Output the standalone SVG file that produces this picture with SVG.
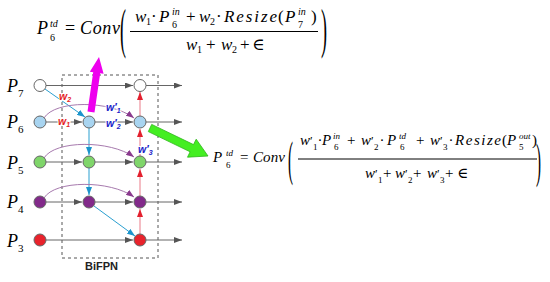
<svg xmlns="http://www.w3.org/2000/svg" width="550" height="282" viewBox="0 0 550 282">
<style>
.m{font-family:"Liberation Serif","Times New Roman","DejaVu Serif",serif;font-style:italic;fill:#000}
.r{font-family:"Liberation Serif","Times New Roman","DejaVu Serif",serif;font-style:normal;fill:#000}
.u{font-style:normal}
.h{stroke:#666;stroke-width:1;fill:none;marker-end:url(#ag)}
.b{stroke:#2a9fd0;stroke-width:1;fill:none;marker-end:url(#ab)}
.rd{stroke:#ea7a88;stroke-width:1;fill:none;marker-end:url(#ar)}
.p{stroke:#a77aae;stroke-width:1;fill:none;marker-end:url(#ap)}
.n{stroke:#666;stroke-width:1}
.lb{font-family:"Liberation Sans",Arial,sans-serif;font-weight:bold;font-style:italic;font-size:10.5px;paint-order:stroke;stroke:#fff;stroke-width:2px}
</style>
<defs>
<marker id="ag" markerUnits="userSpaceOnUse" markerWidth="8" markerHeight="6" refX="8" refY="3" orient="auto"><path d="M0,0 L8,3 L0,6 z" fill="#555"/></marker>
<marker id="ab" markerUnits="userSpaceOnUse" markerWidth="8" markerHeight="6" refX="8" refY="3" orient="auto"><path d="M0,0 L8,3 L0,6 z" fill="#1b94cc"/></marker>
<marker id="ar" markerUnits="userSpaceOnUse" markerWidth="8" markerHeight="6" refX="8" refY="3" orient="auto"><path d="M0,0 L8,3 L0,6 z" fill="#e3202e"/></marker>
<marker id="ap" markerUnits="userSpaceOnUse" markerWidth="8" markerHeight="6" refX="8" refY="3" orient="auto"><path d="M0,0 L8,3 L0,6 z" fill="#8a3a8e"/></marker>
</defs>
<rect width="550" height="282" fill="#fff"/>

<!-- top formula -->
<g id="formula1">
<text class="m" font-size="18" y="34"><tspan x="37">P</tspan><tspan x="50" y="27" font-size="10">td</tspan><tspan class="u" x="50" y="41" font-size="10">6</tspan><tspan class="u" x="65" y="34">=</tspan><tspan x="80" y="34" textLength="40" lengthAdjust="spacing">Conv</tspan></text>
<text class="r" font-size="18" transform="translate(120,47) scale(1,3.03)">(</text>
<text class="m" font-size="17" y="22"><tspan x="135">w</tspan><tspan class="u" x="146" y="25" font-size="10">1</tspan><tspan class="u" x="151" y="22">·</tspan><tspan x="159" y="22">P</tspan><tspan x="172" y="15" font-size="10">in</tspan><tspan class="u" x="172" y="28" font-size="10">6</tspan><tspan class="u" x="186" y="22">+</tspan><tspan x="199" y="22">w</tspan><tspan class="u" x="210" y="25" font-size="10">2</tspan><tspan class="u" x="216" y="22">·</tspan><tspan x="224" y="22" textLength="53" lengthAdjust="spacing">Resize</tspan><tspan class="u" x="278" y="22">(</tspan><tspan x="285" y="22">P</tspan><tspan x="298" y="15" font-size="10">in</tspan><tspan class="u" x="298" y="28" font-size="10">7</tspan><tspan class="u" x="311" y="22">)</tspan></text>
<line x1="130" y1="31.5" x2="318" y2="31.5" stroke="#000" stroke-width="1"/>
<text class="m" font-size="17" y="50"><tspan x="186">w</tspan><tspan class="u" x="197" y="53" font-size="10">1</tspan><tspan class="u" x="206" y="50">+</tspan><tspan x="221" y="50">w</tspan><tspan class="u" x="232" y="53" font-size="10">2</tspan><tspan class="u" x="240" y="50">+</tspan><tspan class="u" x="252" y="50">∈</tspan></text>
<text class="r" font-size="18" transform="translate(321,47) scale(1,3.03)">)</text>
</g>

<!-- second formula -->
<g id="formula2">
<text class="m" font-size="15" y="162"><tspan x="213">P</tspan><tspan x="226" y="156" font-size="9">td</tspan><tspan class="u" x="226" y="168" font-size="9">6</tspan><tspan class="u" x="240" y="162">=</tspan><tspan x="253" y="162" textLength="32" lengthAdjust="spacing">Conv</tspan></text>
<text class="r" font-size="15" transform="translate(288,175.4) scale(1,3.18)">(</text>
<text class="m" font-size="15" y="145"><tspan x="300">w</tspan><tspan class="u" x="310" y="145" font-size="12">′</tspan><tspan class="u" x="313" y="149.5" font-size="9">1</tspan><tspan class="u" x="317.5" y="145">·</tspan><tspan x="322" y="145">P</tspan><tspan x="333" y="139" font-size="9">in</tspan><tspan class="u" x="334" y="150" font-size="9">6</tspan><tspan class="u" x="347" y="145">+</tspan><tspan x="361" y="145">w</tspan><tspan class="u" x="371" y="145" font-size="12">′</tspan><tspan class="u" x="374" y="149.5" font-size="9">2</tspan><tspan class="u" x="379.5" y="145">·</tspan><tspan x="387" y="145">P</tspan><tspan x="399" y="139" font-size="9">td</tspan><tspan class="u" x="400" y="150" font-size="9">6</tspan><tspan class="u" x="416" y="145">+</tspan><tspan x="430" y="145">w</tspan><tspan class="u" x="440" y="145" font-size="12">′</tspan><tspan class="u" x="443" y="149.5" font-size="9">3</tspan><tspan class="u" x="448.5" y="145">·</tspan><tspan x="455" y="145" textLength="46" lengthAdjust="spacing">Resize</tspan><tspan class="u" x="502" y="145">(</tspan><tspan x="507" y="145">P</tspan><tspan x="519" y="139" font-size="9">out</tspan><tspan class="u" x="519" y="150" font-size="9">5</tspan><tspan class="u" x="532" y="145">)</tspan></text>
<line x1="298" y1="159" x2="537" y2="159" stroke="#000" stroke-width="1"/>
<text class="m" font-size="15" y="178"><tspan x="365">w</tspan><tspan class="u" x="375" y="178" font-size="12">′</tspan><tspan class="u" x="378" y="182.5" font-size="9">1</tspan><tspan class="u" x="383" y="178">+</tspan><tspan x="395" y="178">w</tspan><tspan class="u" x="405" y="178" font-size="12">′</tspan><tspan class="u" x="408" y="182.5" font-size="9">2</tspan><tspan class="u" x="413" y="178">+</tspan><tspan x="427" y="178">w</tspan><tspan class="u" x="437" y="178" font-size="12">′</tspan><tspan class="u" x="440" y="182.5" font-size="9">3</tspan><tspan class="u" x="445" y="178">+</tspan><tspan class="u" x="457" y="178">∈</tspan></text>
<text class="r" font-size="15" transform="translate(536,177) scale(1,3.18)">)</text>
</g>

<rect id="bifpn-box" x="62" y="75" width="96" height="183" fill="none" stroke="#555" stroke-width="1" stroke-dasharray="3,3"/>

<g id="connectors">
<path class="h" d="M46,85.5 H133"/>
<path class="h" d="M146,85.5 H182"/>
<path class="h" d="M46,122 H82"/>
<path class="h" d="M95,122 H133"/>
<path class="h" d="M146,122 H182"/>
<path class="h" d="M46,162 H82"/>
<path class="h" d="M95,162 H133"/>
<path class="h" d="M146,162 H182"/>
<path class="h" d="M46,202 H82"/>
<path class="h" d="M95,202 H133"/>
<path class="h" d="M146,202 H182"/>
<path class="h" d="M46,240 H133"/>
<path class="h" d="M146,240 H182"/>
<path class="b" d="M45,89 L85,117"/>
<path class="b" d="M89,128 V155"/>
<path class="b" d="M89,168 V195"/>
<path class="b" d="M94,206 L135,236"/>
<path class="rd" d="M140,234 V209"/>
<path class="rd" d="M140,196 V169"/>
<path class="rd" d="M140,156 V129"/>
<path class="rd" d="M140,116 V92"/>
<path class="p" d="M44,118 C55,100 110,100 134,118"/>
<path class="p" d="M44,158 C55,140 110,140 134,157"/>
<path class="p" d="M44,198 C55,180 110,180 134,197"/>
</g>

<g id="P7"><circle class="n" cx="40" cy="85.5" r="6" fill="#fff"/><circle class="n" cx="140" cy="85.5" r="6" fill="#fff"/>
<text class="m" x="7" y="92" font-size="18">P<tspan class="u" x="18" y="97" font-size="11">7</tspan></text></g>
<g id="P6"><circle class="n" cx="40" cy="122" r="6" fill="#a8d4f0"/><circle class="n" cx="89" cy="122" r="6" fill="#a8d4f0"/><circle class="n" cx="140" cy="122" r="6" fill="#a8d4f0"/>
<text class="m" x="7" y="128" font-size="18">P<tspan class="u" x="18" y="133" font-size="11">6</tspan></text></g>
<g id="P5"><circle class="n" cx="40" cy="162" r="6" fill="#7fd56a"/><circle class="n" cx="89" cy="162" r="6" fill="#7fd56a"/><circle class="n" cx="140" cy="162" r="6" fill="#7fd56a"/>
<text class="m" x="7" y="169" font-size="18">P<tspan class="u" x="18" y="174" font-size="11">5</tspan></text></g>
<g id="P4"><circle class="n" cx="40" cy="202" r="6" fill="#822a8a"/><circle class="n" cx="89" cy="202" r="6" fill="#822a8a"/><circle class="n" cx="140" cy="202" r="6" fill="#822a8a"/>
<text class="m" x="7" y="208" font-size="18">P<tspan class="u" x="18" y="213" font-size="11">4</tspan></text></g>
<g id="P3"><circle class="n" cx="40" cy="240" r="6" fill="#e8232c"/><circle class="n" cx="140" cy="240" r="6" fill="#e8232c"/>
<text class="m" x="7" y="247" font-size="18">P<tspan class="u" x="18" y="252" font-size="11">3</tspan></text></g>

<g id="weights">
<text class="lb" x="59" y="100" fill="#e51e25">w<tspan font-size="7" dy="2">2</tspan></text>
<text class="lb" x="58" y="125" fill="#e51e25">w<tspan font-size="7" dy="2">1</tspan></text>
<text class="lb" x="106" y="111" fill="#1a22c8">w′<tspan font-size="7" dy="2">1</tspan></text>
<text class="lb" x="106" y="127" fill="#1a22c8">w′<tspan font-size="7" dy="2">2</tspan></text>
<text class="lb" x="138" y="153" fill="#1a22c8">w′<tspan font-size="7" dy="2">3</tspan></text>
</g>

<text x="85" y="270" font-family="Liberation Sans,Arial,sans-serif" font-weight="bold" font-size="11" fill="#222">BiFPN</text>

<g id="magenta-arrow"><polygon points="87.5,111.5 93.2,72.3 89.8,71.8 99,57 103.6,73.8 100.2,73.3 94.5,112.5" fill="#ee00ee"/></g>
<g id="green-arrow"><polygon points="151.7,124.4 193.5,144.6 196.2,139.2 208,156 187.5,157.2 190.1,151.8 148.3,131.6" fill="#44ee22" stroke="#2fb51c" stroke-width="0.8"/></g>
</svg>
